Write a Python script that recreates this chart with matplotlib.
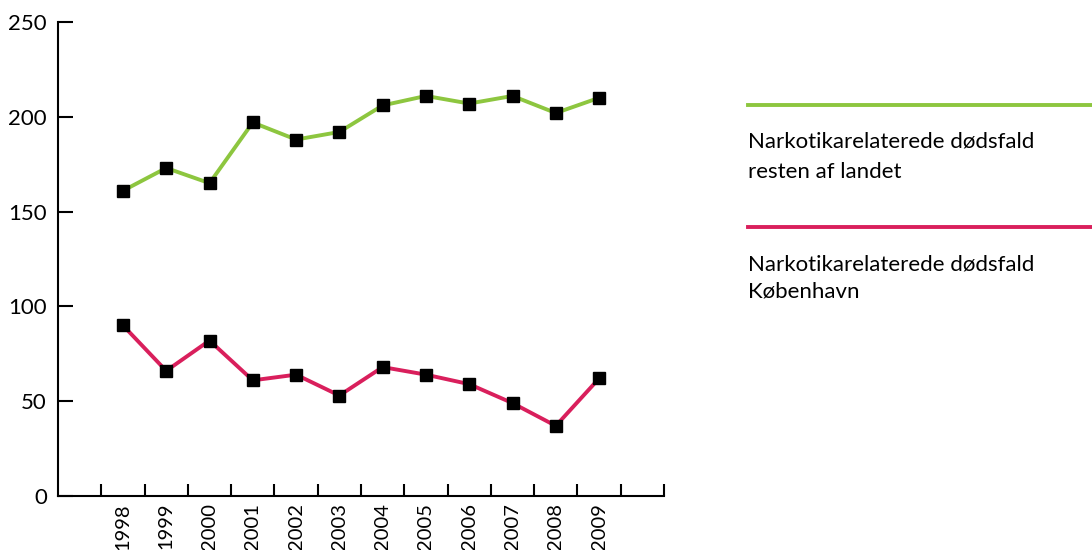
import matplotlib
matplotlib.use("Agg")
import matplotlib.pyplot as plt
from matplotlib.lines import Line2D

plt.rcParams['font.family'] = ['Lato', 'DejaVu Sans']

years = ["1998", "1999", "2000", "2001", "2002", "2003", "2004", "2005", "2006", "2007", "2008", "2009"]
rest_af_landet = [161, 173, 165, 197, 188, 192, 206, 211, 207, 211, 202, 210]
koebenhavn = [90, 66, 82, 61, 64, 53, 68, 64, 59, 49, 37, 62]
yticks = [0, 50, 100, 150, 200, 250]
labels = [["Narkotikarelaterede dødsfald", "resten af landet"],
          ["Narkotikarelaterede dødsfald", "København"]]

GREEN = "#8DC63F"
RED = "#D91F5C"

W, H = 1092, 550
fig = plt.figure(figsize=(W / 100, H / 100), dpi=100)
ax = fig.add_axes([58 / W, 1 - 496 / H, (664 - 58) / W, (496 - 22) / H])

x = list(range(len(years)))
ax.plot(x, rest_af_landet, color=GREEN, lw=2.8, marker='s', ms=8.5,
        mfc='black', mec='black', zorder=3)
ax.plot(x, koebenhavn, color=RED, lw=2.8, marker='s', ms=8.5,
        mfc='black', mec='black', zorder=3)

ax.set_xlim(-1.5, 12.5)
ax.set_ylim(0, 250)
for s in ['top', 'right']:
    ax.spines[s].set_visible(False)
for s in ['left', 'bottom']:
    ax.spines[s].set_linewidth(1.5)

ax.set_yticks(yticks)
ax.set_yticklabels([str(v) for v in yticks])
ax.tick_params(axis='y', direction='in', length=11, width=1.5, labelsize=16, pad=8)

ax.set_xticks([i - 0.5 for i in range(13)] + [12.5])
ax.set_xticklabels([])
ax.tick_params(axis='x', which='major', direction='in', length=9, width=1.5)
ax.set_xticks(x, minor=True)
ax.set_xticklabels(years, minor=True, rotation=90)
ax.tick_params(axis='x', which='minor', length=0, labelsize=14.5, pad=5)

# legend drawn in figure coordinates
line_y = [105, 227]
base_y = [(148, 178), (270, 298)]
for color, ly, (b1, b2), (t1, t2) in zip([GREEN, RED], line_y, base_y, labels):
    fig.add_artist(Line2D([748 / W, 1.0], [1 - ly / H, 1 - ly / H], color=color, lw=2.8))
    fig.text(748 / W, 1 - b1 / H, t1, ha='left', va='baseline', fontsize=16)
    fig.text(748 / W, 1 - b2 / H, t2, ha='left', va='baseline', fontsize=16)

fig.savefig("out.png", dpi=100)
